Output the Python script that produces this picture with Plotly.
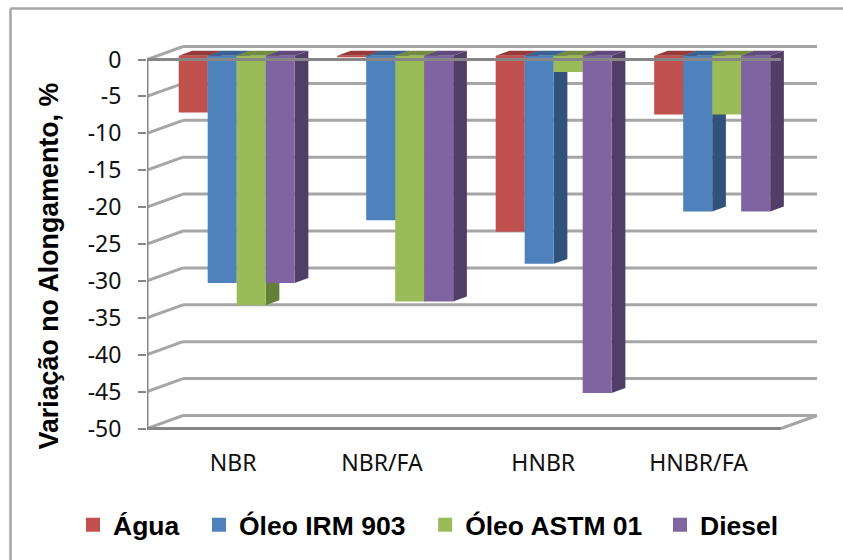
import plotly.graph_objects as go

categories = ["NBR", "NBR/FA", "HNBR", "HNBR/FA"]
agua = [-7.7, -0.2, -23.85, -7.95]
oleo_irm = [-30.8, -22.3, -28.2, -21.1]
oleo_astm = [-33.8, -33.3, -2.2, -7.95]
diesel = [-30.8, -33.3, -45.7, -21.1]
y_ticks = [0, -5, -10, -15, -20, -25, -30, -35, -40, -45, -50]

series = [
    ("Água", agua, "#C0504D", "#953A38", "#7D2F2D"),
    ("Óleo IRM 903", oleo_irm, "#4F81BD", "#3A6291", "#31537B"),
    ("Óleo ASTM 01", oleo_astm, "#9BBB59", "#748C42", "#667F38"),
    ("Diesel", diesel, "#8064A2", "#604A7B", "#513E67"),
]
# Non-breaking padding that spaces the horizontal legend entries
legend_padding = ["\u00a0\u00a0", "\u00a0\u00a0", "\u00a0\u2009", ""]

# Pixel scale of the plot box, used to express the oblique projection in data units
PX_PER_CAT = 158.5
PX_PER_UNIT = 7.38
DEPTH_X = 36 / PX_PER_CAT
DEPTH_Y = 13 / PX_PER_UNIT
BAR_NEAR = 0.29   # fraction of the floor depth where bars begin
BAR_FAR = 0.67    # fraction of the floor depth where bars end
BAR_W = 29 / PX_PER_CAT
GAP = (1 - 4 * BAR_W) / 2
GRID = "#A6A6A6"
AXIS = "#868686"


def project(x, value, depth):
    """Oblique projection of a point (category position, value, depth 0..1)."""
    return x + depth * DEPTH_X, value + depth * DEPTH_Y


def polygons(quads):
    xs, ys = [], []
    for quad in quads:
        for p in quad + [quad[0]]:
            xs.append(p[0])
            ys.append(p[1])
        xs.append(None)
        ys.append(None)
    return xs, ys


fig = go.Figure()


def add_line(xs, ys, color, width):
    fig.add_trace(go.Scatter(
        x=xs, y=ys, mode="lines", showlegend=False, hoverinfo="skip",
        line=dict(color=color, width=width), cliponaxis=False,
    ))


# Back wall, left wall and floor edges at each tick
for tick in y_ticks:
    x0, y0 = project(0, tick, 0)
    x1, y1 = project(0, tick, 1)
    x2, y2 = project(4, tick, 1)
    add_line([x1, x2], [y1, y2], GRID, 3)
    add_line([x0, x1], [y0, y1], GRID, 3)

x3, y3 = project(4, -50, 0)
x4, y4 = project(4, -50, 1)
add_line([x3, x4], [y3, y4], GRID, 3)


def add_face(quads, color, name):
    xs, ys = polygons(quads)
    fig.add_trace(go.Scatter(
        x=xs, y=ys, mode="none", fill="toself", fillcolor=color,
        showlegend=False, name=name, cliponaxis=False, hoverinfo="skip",
    ))


# Bars are painted left to right so nearer faces hide the sides behind them
for s, (name, values, front, top, side) in enumerate(series):
    side_q, top_q, front_q = [], [], []
    for c, v in enumerate(values):
        xl = c + GAP + s * BAR_W
        xr = xl + BAR_W
        side_q.append([project(xr, 0, BAR_NEAR), project(xr, 0, BAR_FAR),
                       project(xr, v, BAR_FAR), project(xr, v, BAR_NEAR)])
        top_q.append([project(xl, 0, BAR_NEAR), project(xr, 0, BAR_NEAR),
                      project(xr, 0, BAR_FAR), project(xl, 0, BAR_FAR)])
        front_q.append([project(xl, 0, BAR_NEAR), project(xr, 0, BAR_NEAR),
                        project(xr, v, BAR_NEAR), project(xl, v, BAR_NEAR)])
    add_face(side_q, side, name)
    add_face(top_q, top, name)
    add_face(front_q, front, name)

# Front edges of the axis box sit over the bars
add_line([0, 4], [0, 0], AXIS, 3)
add_line([0, 4], [-50, -50], AXIS, 3)
add_line([0, 0], [0, -50], AXIS, 3)

# Legend keys
for (name, values, front, top, side), pad in zip(series, legend_padding):
    fig.add_trace(go.Scatter(
        x=[None], y=[None], mode="markers", name=name + pad,
        marker=dict(symbol="square", size=14, color=front),
    ))

label_positions = [0.543, 1.483, 2.5, 3.48]

fig.update_layout(
    width=843, height=560,
    autosize=False,
    margin=dict(l=147, r=25, t=45, b=129, autoexpand=False),
    paper_bgcolor="white", plot_bgcolor="white",
    font=dict(family="Noto Sans", color="black"),
    hovermode=False,
    xaxis=dict(
        range=[0, 671 / PX_PER_CAT], showgrid=False, zeroline=False, showline=False,
        tickmode="array", tickvals=label_positions, ticktext=categories,
        ticks="", tickfont=dict(family="Noto Sans", size=23, color="#111111"),
        ticklabelstandoff=16,
    ),
    yaxis=dict(
        range=[-371.5 / PX_PER_UNIT, 14.5 / PX_PER_UNIT], showgrid=False, zeroline=False,
        showline=False, tickmode="array", tickvals=y_ticks,
        ticktext=[str(t) for t in y_ticks],
        ticks="outside", ticklen=8, tickwidth=2, tickcolor=AXIS,
        tickfont=dict(family="Noto Sans", size=23, color="#111111"),
        ticklabelstandoff=12,
    ),
    legend=dict(
        orientation="h", x=(73 - 147) / 671, y=(431 - 525) / 386, xanchor="left", yanchor="middle",
        traceorder="normal", itemwidth=30,
        font=dict(family="Liberation Sans", size=26.5, color="black", weight="bold"),
        bgcolor="rgba(0,0,0,0)",
    ),
    annotations=[
        dict(
            text="Variação no Alongamento, %", textangle=-90, showarrow=False,
            xref="paper", yref="paper",
            x=(48 - 147) / 671, y=(431 - 266.5) / 386, xanchor="center", yanchor="middle",
            font=dict(family="Liberation Sans", size=26.8, color="black", weight="bold"),
        ),
    ],
    shapes=[
        dict(type="line", xref="paper", yref="paper", x0=-0.2034, x1=1.1, y0=1.0945, y1=1.0945,
             line=dict(color="#A6A6A6", width=2.5)),
        dict(type="line", xref="paper", yref="paper", x0=-0.2034, x1=-0.2034, y0=1.0945, y1=-0.4,
             line=dict(color="#A6A6A6", width=2.5)),
    ],
)

fig.write_html("out.html")
